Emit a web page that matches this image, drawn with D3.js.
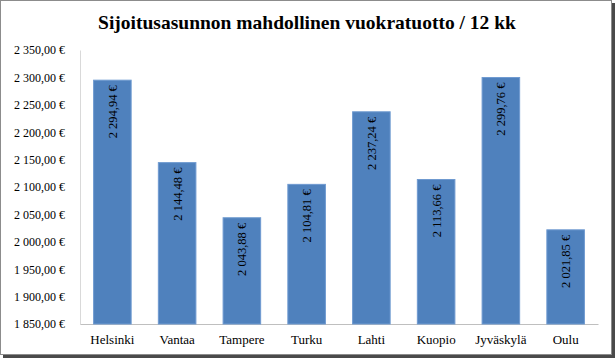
<!DOCTYPE html>
<html><head><meta charset="utf-8">
<script src="https://cdn.jsdelivr.net/npm/d3@7"></script>
<style>body{margin:0;background:#fff}svg{display:block}</style>
</head><body>
<script>
const categories = ["Helsinki","Vantaa","Tampere","Turku","Lahti","Kuopio","Jyväskylä","Oulu"];
const values = [2294.94,2144.48,2043.88,2104.81,2237.24,2113.66,2299.76,2021.85];
const valueLabels = ["2 294,94 €","2 144,48 €","2 043,88 €","2 104,81 €","2 237,24 €","2 113,66 €","2 299,76 €","2 021,85 €"];
const tickValues = [1850,1900,1950,2000,2050,2100,2150,2200,2250,2300,2350];
const tickLabels = ["1 850,00 €","1 900,00 €","1 950,00 €","2 000,00 €","2 050,00 €","2 100,00 €","2 150,00 €","2 200,00 €","2 250,00 €","2 300,00 €","2 350,00 €"];
const title = "Sijoitusasunnon mahdollinen vuokratuotto / 12 kk";

const W = 615, H = 358;
const font = "'Liberation Serif','DejaVu Serif',serif";
const svg = d3.select("body").append("svg").attr("width", W).attr("height", H);

// frame with shadow
svg.append("rect").attr("x",3).attr("y",3).attr("width",W-3).attr("height",H-3).attr("fill","#4a4a4a");
svg.append("rect").attr("x",0.5).attr("y",0.5).attr("width",W-4).attr("height",H-4).attr("fill","#fff").attr("stroke","#8c8c8c");

const x = d3.scaleBand().domain(categories).range([80, 598]).paddingInner(0.42).paddingOuter(0.21);
const y = d3.scaleLinear().domain([1850, 2350]).range([324, 50]);

svg.append("text").attr("x", 307).attr("y", 29).attr("text-anchor","middle")
  .attr("font-family", font).attr("font-weight","bold").attr("font-size", 19.5).attr("fill","#000").text(title);

const yAxis = d3.axisLeft(y).tickValues(tickValues).tickFormat((d,i)=>tickLabels[i]).tickSize(0).tickPadding(15);
const gy = svg.append("g").attr("transform","translate(80,0)").call(yAxis);
gy.select(".domain").attr("stroke","#d9d9d9");
gy.selectAll("text").attr("font-family", font).attr("font-size", 12).attr("fill","#000");

const xAxis = d3.axisBottom(x).tickSize(0).tickPadding(11);
const gx = svg.append("g").attr("transform","translate(0,324)").call(xAxis);
gx.select(".domain").attr("stroke","#bfbfbf");
gx.selectAll("text").attr("font-family", font).attr("font-size", 13).attr("fill","#000");

svg.append("g").selectAll("rect").data(values).join("rect")
  .attr("x",(d,i)=>x(categories[i])).attr("width", x.bandwidth())
  .attr("y", d=>y(d)).attr("height", d=>y(1850)-y(d))
  .attr("fill","#4f81bd").attr("stroke","#6f9ad0").attr("stroke-width",1);

svg.append("g").selectAll("text").data(values).join("text")
  .attr("transform",(d,i)=>`translate(${x(categories[i])+x.bandwidth()/2+4.5},${y(d)+5}) rotate(-90)`)
  .attr("text-anchor","end")
  .attr("font-family", font).attr("font-size", 12.5).attr("fill","#000")
  .text((d,i)=>valueLabels[i]);
</script>
</body></html>
